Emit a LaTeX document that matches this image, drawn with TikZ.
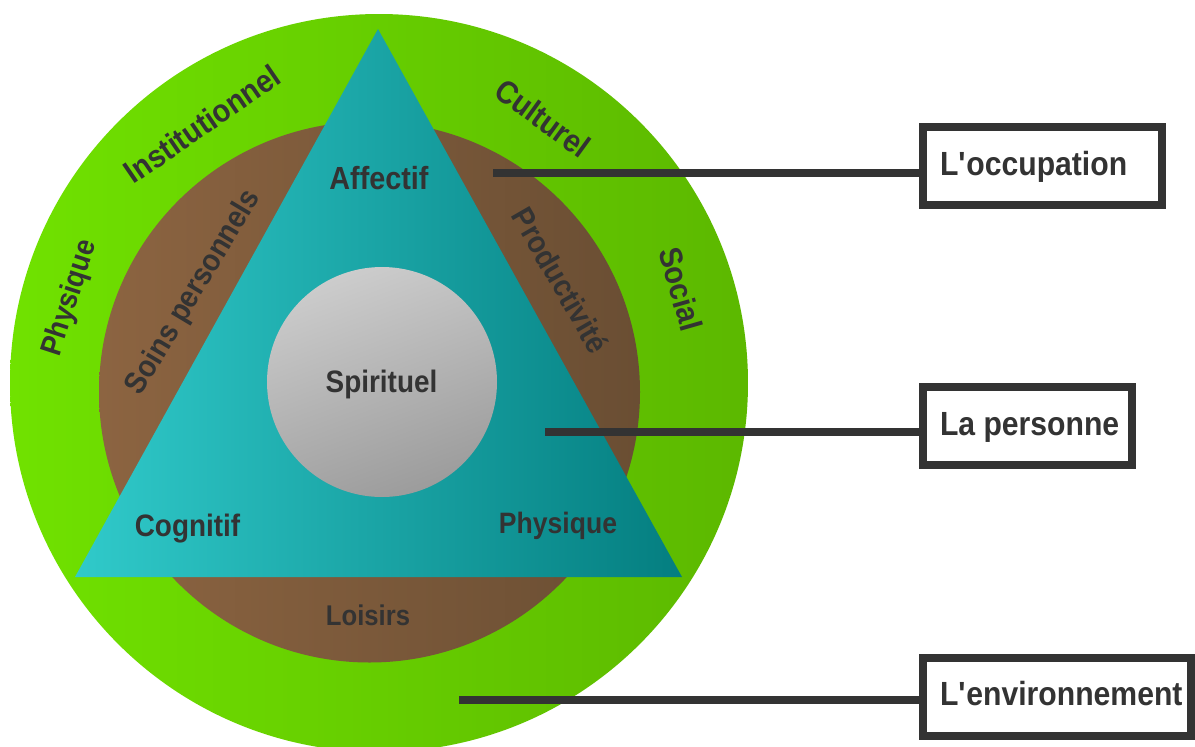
\documentclass[tikz,border=0pt]{standalone}
\usepackage{fontspec}
\setmainfont{Liberation Sans}[FakeStretch=0.9]
\definecolor{ink}{HTML}{333333}
\definecolor{greenA}{HTML}{70E200}
\definecolor{greenB}{HTML}{5CB800}
\definecolor{brownA}{HTML}{8C6441}
\definecolor{brownB}{HTML}{6A4E33}
\definecolor{tealA}{HTML}{30CACA}
\definecolor{tealB}{HTML}{047E80}
\definecolor{grayA}{HTML}{CCCCCC}
\definecolor{grayB}{HTML}{9C9C9C}
\newcommand\lblfont[1]{\fontsize{#1}{#1}\selectfont\bfseries}
\begin{document}
\begin{tikzpicture}[x=1pt,y=-1pt,
  lbl/.style={text=ink, inner sep=0pt, text height=23pt, text depth=0pt},
  conn/.style={draw=ink, line width=8pt},
  box/.style={draw=ink, line width=8pt, fill=white, text=ink,
    font=\lblfont{33.5}, inner xsep=17pt, inner ysep=0pt,
    text height=23pt, text depth=5pt, minimum height=78pt}]
\useasboundingbox (0,0) rectangle (1195,747);
\clip (0,0) rectangle (1195,747);
% environment ring
\shade[left color=greenA, right color=greenB] (379,383) circle[radius=369pt];
% occupation ring
\shade[left color=brownA, right color=brownB] (369.5,392) circle[radius=270.5pt];
% person triangle
\shade[left color=tealA, right color=tealB] (378,29) -- (682,577) -- (75,577) -- cycle;
% spiritual core
\shade[top color=grayA, bottom color=grayB, shading angle=20] (382,382) circle[radius=115pt];

% ring labels (environment)
\node[lbl, font=\lblfont{32}, rotate=34.4] (inst) at (202,124) {Institutionnel};
\node[lbl, font=\lblfont{32}, rotate=-36] (cult) at (543,118) {Culturel};
\node[lbl, font=\lblfont{32}, rotate=-74] (soc) at (681,289) {Social};
\node[lbl, font=\lblfont{30}, rotate=72] (phys) at (67,297) {Physique};
% ring labels (occupation)
\node[lbl, font=\lblfont{31}, rotate=59] (soins) at (191,291) {Soins personnels};
\node[lbl, font=\lblfont{31}, rotate=-60] (prod) at (561,280) {Productivité};
\node[lbl, font=\lblfont{28.5}] (lois) at (368,613.5) {Loisirs};
% person labels
\node[lbl, font=\lblfont{32}] (aff) at (379,177.5) {Affectif};
\node[lbl, font=\lblfont{31}] (spir) at (381.5,381) {Spirituel};
\node[lbl, font=\lblfont{31}] (cogn) at (187.5,524.5) {Cognitif};
\node[lbl, font=\lblfont{29.5}] (physp) at (558,521.5) {Physique};

% legend boxes
\node[box] (occ) at (1042.5,166) {\makebox[205pt][l]{L\textquotesingle occupation}};
\node[box] (pers) at (1027.5,426) {\makebox[175pt][l]{La personne}};
\node[box] (env) at (1057,696.5) {\makebox[234pt][l]{L\textquotesingle environnement}};

% connectors
\coordinate (occS) at (493,173);
\coordinate (persS) at (545,432);
\coordinate (envS) at (459,700);
\draw[conn] (occS) -- (occS -| occ.west);
\draw[conn] (persS) -- (persS -| pers.west);
\draw[conn] (envS) -- (envS -| env.west);
\end{tikzpicture}
\end{document}
